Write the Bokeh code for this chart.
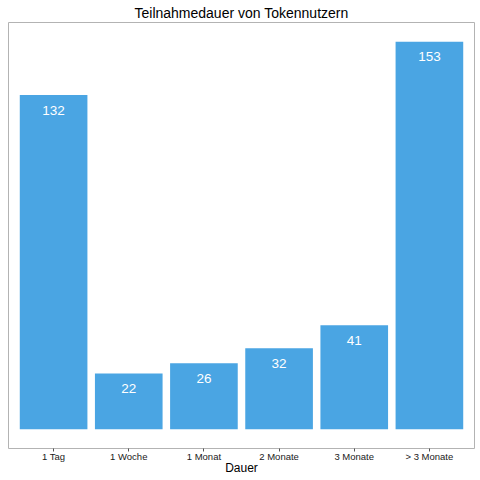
from bokeh.plotting import figure
from bokeh.models import FactorRange, Range1d, ColumnDataSource
from bokeh.core.properties import value
from bokeh.embed import file_html
from bokeh.resources import INLINE

categories = ["1 Tag", "1 Woche", "1 Monat", "2 Monate", "3 Monate", "> 3 Monate"]
counts = [132, 22, 26, 32, 41, 153]
labels = [str(c) for c in counts]

FONT = "Liberation Sans"

src = ColumnDataSource(dict(cat=categories, n=counts, lab=labels))

p = figure(
    frame_width=466, frame_height=426,
    x_range=FactorRange(factors=categories, range_padding=1 / 30),
    y_range=Range1d(-0.05 * max(counts), 1.05 * max(counts)),
    y_axis_location=None,
    toolbar_location=None,
    output_backend="svg",
    title="Teilnahmedauer von Tokennutzern",
    min_border_left=8, min_border_right=5, min_border_top=22, min_border_bottom=31,
)

p.title.text_font = FONT
p.title.text_font_size = "14px"
p.title.text_font_style = "normal"
p.title.align = "center"
p.title.text_color = "#000000"
p.title.standoff = 4
p.title.offset = 0

p.vbar(x="cat", top="n", bottom=0, width=0.9, source=src,
       fill_color="#4AA5E3", line_color=None)
p.text(x="cat", y="n", text="lab", source=src, text_color="white",
       text_font=value(FONT), text_font_size="13.5px", text_align="center",
       text_baseline="middle", y_offset=15)

p.xgrid.visible = False
p.ygrid.visible = False
p.outline_line_color = "#b3b3b3"
p.outline_line_width = 1

ax = p.xaxis[0]
ax.axis_label = "Dauer"
ax.axis_label_text_font = FONT
ax.axis_label_text_font_size = "12px"
ax.axis_label_text_font_style = "normal"
ax.axis_label_text_color = "#000000"
ax.axis_label_standoff = -4
ax.major_label_text_font = FONT
ax.major_label_text_font_size = "9.5px"
ax.major_label_text_color = "#1a1a1a"
ax.major_label_standoff = -1
ax.axis_line_color = None
ax.major_tick_in = 0
ax.major_tick_out = 3
ax.major_tick_line_color = "#555555"
ax.minor_tick_line_color = None
ax.group_text_font_size = "0px"

open("out.html", "w").write(file_html(p, INLINE))
